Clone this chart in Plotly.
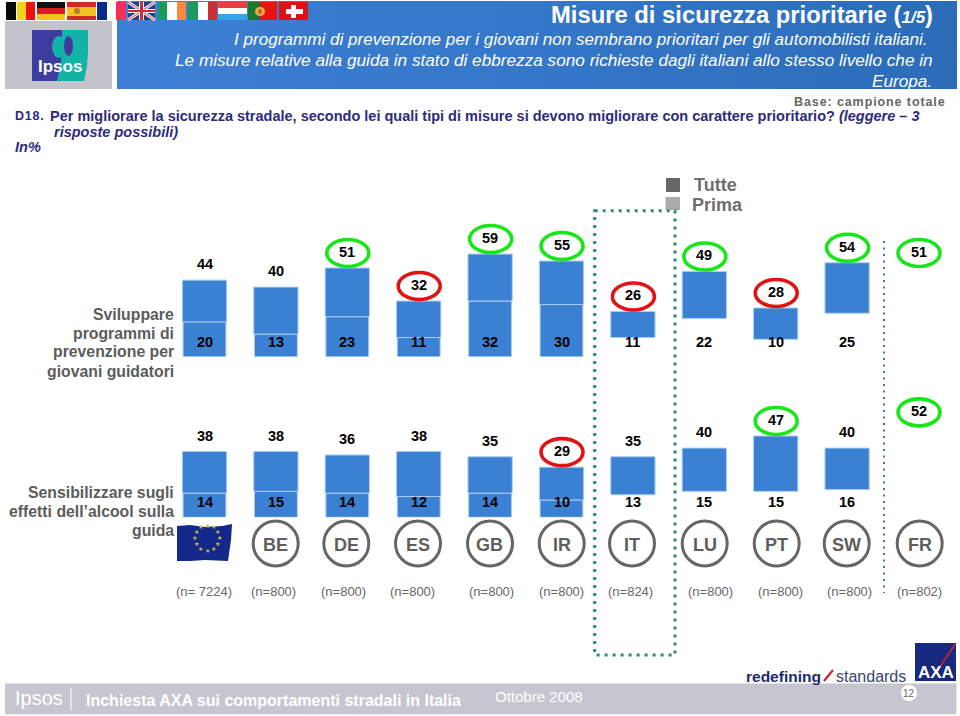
import math
import plotly.graph_objects as go

countries = ["UE", "BE", "DE", "ES", "GB", "IR", "IT", "LU", "PT", "SW", "FR"]
sample_labels = ["(n= 7224)", "(n=800)", "(n=800)", "(n=800)", "(n=800)", "(n=800)", "(n=824)", "(n=800)", "(n=800)", "(n=800)", "(n=802)"]

row1_label = ["Sviluppare", "programmi di", "prevenzione per", "giovani guidatori"]
row1_tutte = [44, 40, 51, 32, 59, 55, 26, 49, 28, 54, 51]
row1_prima = [20, 13, 23, 11, 32, 30, 11, 22, 10, 25, None]
row1_oval = {2: "g", 3: "r", 4: "g", 5: "g", 6: "r", 7: "g", 8: "r", 9: "g", 10: "g"}

row2_label = ["Sensibilizzare sugli", "effetti dell’alcool sulla", "guida"]
row2_tutte = [38, 38, 36, 38, 35, 29, 35, 40, 47, 40, 52]
row2_prima = [14, 15, 14, 12, 14, 10, 13, 15, 15, 16, None]
row2_oval = {5: "r", 8: "g", 10: "g"}

# Only the first six countries show the lower (Prima) segment; FR shows no bars.
N_PRIMA_VISIBLE = 6
N_BARS = 10

FONT = "Liberation Sans"
BAR = "#3A80D3"
EDGE = "#A9CDEE"
GREY = "#666666"
NAVY = "#2E2A7E"


def px(x):
    return x / 960


def py(y):
    return 1 - y / 716


shapes = []
ann = []


def rect(x0, y0, x1, y1, color, layer="below"):
    shapes.append(dict(type="rect", xref="paper", yref="paper", x0=px(x0), x1=px(x1), y0=py(y0), y1=py(y1),
                       fillcolor=color, line=dict(width=0), layer=layer))


def line(x0, y0, x1, y1, color, width, dash="solid", layer="below"):
    shapes.append(dict(type="line", xref="paper", yref="paper", x0=px(x0), x1=px(x1), y0=py(y0), y1=py(y1),
                       line=dict(color=color, width=width, dash=dash), layer=layer))


def ellipse(x0, y0, x1, y1, fill="rgba(0,0,0,0)", lc="rgba(0,0,0,0)", lw=0, layer="below"):
    shapes.append(dict(type="circle", xref="paper", yref="paper", x0=px(x0), x1=px(x1), y0=py(y0), y1=py(y1),
                       fillcolor=fill, line=dict(color=lc, width=lw), layer=layer))


def poly(pts, color, layer="below"):
    d = "M" + " L".join(f"{px(x):.5f},{py(y):.5f}" for x, y in pts) + " Z"
    shapes.append(dict(type="path", xref="paper", yref="paper", path=d, fillcolor=color, line=dict(width=0), layer=layer))


def text(x, y, s, size, color, anchor="center", family=FONT):
    ann.append(dict(xref="paper", yref="paper", x=px(x), y=py(y), text=s, showarrow=False, xanchor=anchor,
                    yanchor="middle", align=anchor if anchor != "center" else "center",
                    font=dict(family=family, size=size, color=color), borderpad=0, borderwidth=0))


# Banner with a horizontal gradient
bands = 42
c0, c1 = (61, 128, 213), (44, 109, 186)
for k in range(bands):
    t = k / (bands - 1)
    c = tuple(round(c0[j] + (c1[j] - c0[j]) * t) for j in range(3))
    rect(117 + 840 * k / bands, 1, min(957, 117 + 840 * (k + 1) / bands + 0.6), 89, f"rgb{c}")

# Logo panel
rect(5, 21, 112, 89, "#C3C3CC")
rect(32, 30, 63, 81, "#3F3A9E")
poly([(62, 30), (88, 30), (88, 52), (87, 66), (84, 81), (57, 81), (60, 66), (62, 55)], "#14B3A8")
ellipse(52, 36, 66, 58, fill="#14B3A8")
ellipse(64, 36, 73, 56, fill="#3F3A9E")
text(60, 67, "<b>Ipsos</b>", 17, "#FFFFFF")

# Flags
for x0, x1, c in [(6, 16, "#0A0A0A"), (17, 26, "#F4D21C"), (26, 35, "#EE1111")]:
    rect(x0, 2, x1, 20, c)
for y0, y1, c in [(2, 8, "#111111"), (8, 14, "#D81E1E"), (14, 20, "#F0C419")]:
    rect(37, y0, 65, y1, c)
rect(67, 2, 96, 7, "#CF2A2A"); rect(67, 7, 96, 16, "#F4C320"); rect(67, 16, 96, 20, "#CF2A2A")
ellipse(74, 8, 80, 14, fill="#B9792F")
rect(97, 2, 107, 20, "#0A2C8F"); rect(107, 2, 116, 20, "#FFFFFF"); rect(116, 2, 126, 20, "#F23058")
rect(128, 2, 155, 20, "#24407F")
line(128, 2, 155, 20, "#FFFFFF", 3.2); line(128, 20, 155, 2, "#FFFFFF", 3.2)
line(128, 2, 155, 20, "#D83040", 1); line(128, 20, 155, 2, "#D83040", 1)
rect(139, 2, 144, 20, "#FFFFFF"); rect(128, 9, 155, 13, "#FFFFFF")
rect(140, 2, 143, 20, "#D02A38"); rect(128, 10, 155, 12, "#D02A38")
rect(158, 2, 167, 20, "#1C9A5E"); rect(167, 2, 177, 20, "#FFFFFF"); rect(177, 2, 186, 20, "#FB8A3C")
rect(188, 2, 198, 20, "#1C9A5E"); rect(198, 2, 208, 20, "#FFFFFF"); rect(208, 2, 217, 20, "#CE2B37")
rect(218, 2, 247, 8, "#EE3B45"); rect(218, 8, 247, 14, "#FFFFFF"); rect(218, 14, 247, 20, "#32A5E8")
rect(248, 2, 260, 20, "#1A7A30"); rect(260, 2, 277, 20, "#EE1111")
ellipse(255, 7, 265, 16, fill="#E0B040"); ellipse(258, 9, 262, 14, fill="#D05040")
rect(279, 2, 308, 20, "#DD1111")
rect(291, 5, 296, 18, "#FFFFFF"); rect(286, 9, 303, 14, "#FFFFFF")

# Header text
text(933, 15, '<b>Misure di sicurezza prioritarie (</b><span style="font-size:17px"><b><i>1/5</i></b></span><b>)</b>', 23.8, "#FFFFFF", "right")
text(928, 39, "<i>I programmi di prevenzione per i giovani non sembrano prioritari per gli automobilisti italiani.</i>", 17.1, "#FFFFFF", "right")
text(933, 60, "<i>Le misure relative alla guida in stato di ebbrezza sono richieste dagli italiani allo stesso livello che in</i>", 17.2, "#FFFFFF", "right")
text(932, 81, "<i>Europa.</i>", 17.2, "#FFFFFF", "right")
text(946, 102, '<span style="letter-spacing:0.9px"><b>Base: campione totale</b></span>', 12.5, GREY, "right")
text(15, 116, '<span style="letter-spacing:0.8px"><b>D18.</b></span>', 12.5, NAVY, "left")
text(50, 116, "<b>Per migliorare la sicurezza stradale, secondo lei quali tipi di misure si devono migliorare con carattere prioritario? <i>(leggere – 3</i></b>", 14.5, NAVY, "left")
text(54, 132, "<b><i>risposte possibili)</i></b>", 14.5, NAVY, "left")
text(15, 147, "<b><i>In%</i></b>", 14.5, NAVY, "left")

# Legend
rect(666, 178, 680, 192, "#666666")
rect(665.5, 197, 680, 210, "#ABABAB")
text(694, 185, "<b>Tutte</b>", 18, "#6E6E6E", "left")
text(692, 205, "<b>Prima</b>", 18, "#6E6E6E", "left")

# Row labels
for k, s in enumerate(row1_label):
    text(174, 314 + 19 * k, f"<b>{s}</b>", 15.8, "#5C5C5C", "right")
for k, s in enumerate(row2_label):
    text(174, 492 + 19 * k, f"<b>{s}</b>", 15.8, "#5C5C5C", "right")

# Dotted separators
shapes.append(dict(type="rect", xref="paper", yref="paper", x0=px(594.7), x1=px(675), y0=py(210.7), y1=py(655),
                   line=dict(color="#2E8B70", width=3, dash="3px,5px"), fillcolor="rgba(0,0,0,0)", layer="below"))
line(884, 241, 884, 593, "#3A78C0", 2, "2px,4.5px")

# Sample sizes and country rings
sample_x = [203.5, 273.7, 343.7, 412.7, 492, 561.8, 630.7, 710, 780, 849, 919]
ring_x = [None, 275.7, 346.3, 418, 490, 561.7, 632, 704.7, 776.7, 846.7, 919.7]
for i, c in enumerate(countries):
    text(sample_x[i], 591.7, sample_labels[i], 13, GREY)
    if ring_x[i] is not None:
        ellipse(ring_x[i] - 22.5, 521, ring_x[i] + 22.5, 566, lc="#666666", lw=3)
        text(ring_x[i], 544.5, f"<b>{c}</b>", 18, "#5E5E5E")

# EU flag
poly([(177, 526), (190, 525), (205, 527), (222, 526), (232, 524), (231, 540), (228, 561), (205, 560), (190, 561), (177, 561)], "#13288A")
for k in range(12):
    a = math.radians(30 * k)
    ann.append(dict(xref="paper", yref="paper", x=px(202.5 + 12.5 * math.cos(a)), y=py(543 + 12.5 * math.sin(a)),
                    text="★", showarrow=False, font=dict(family="DejaVu Sans", size=6, color="#C9BC4F")))

# Footer
rect(5, 683.5, 956.5, 714.3, "#C5C6D0")
text(15, 698, "Ipsos", 20, "#FFFFFF", "left")
line(71, 688, 71, 710, "#FFFFFF", 1)
text(86, 700, "<b>Inchiesta AXA sui comportamenti stradali in Italia</b>", 16, "#FFFFFF", "left")
text(495, 696, "Ottobre 2008", 15, "#FFFFFF", "left")
ellipse(901, 685, 917, 701, fill="#FFFFFF")
text(909, 693.5, "12", 10, "#666666")
text(746, 676, "<b>redefining</b>", 15.5, "#1B2A6B", "left")
line(824, 681, 833, 670, "#C8283C", 2.2, layer="above")
text(836, 676, "standards", 16, "#3A4270", "left")
rect(915, 643, 956, 681, "#16297F")
line(956, 643, 937, 671, "#D2232F", 1.6, layer="above")
text(936, 672, "<b>AXA</b>", 17, "#FFFFFF")


def add_row(fig, yaxis, yref, tutte, prima, ovals):
    xs = list(range(len(countries)))
    upper = [t - p if (i < N_BARS) else None for i, (t, p) in enumerate(zip(tutte, prima))]
    lower = [p if i < N_PRIMA_VISIBLE else None for i, p in enumerate(prima)]
    fig.add_trace(go.Bar(x=xs, y=lower, name="Prima", width=0.6, yaxis=yaxis,
                         marker=dict(color=BAR, line=dict(color=EDGE, width=1))))
    fig.add_trace(go.Bar(x=xs, y=upper, base=[p if p is not None else 0 for p in prima], name="Tutte", width=0.62, yaxis=yaxis,
                         marker=dict(color=BAR, line=dict(color=EDGE, width=1))))
    for i in xs:
        ann.append(dict(xref="x", yref=yref, x=i, y=tutte[i], yshift=16, text=f"<b>{tutte[i]}</b>", showarrow=False,
                        yanchor="middle", font=dict(family=FONT, size=14.5, color="#000000")))
        if prima[i] is not None:
            ann.append(dict(xref="x", yref=yref, x=i, y=0, yshift=15, text=f"<b>{prima[i]}</b>", showarrow=False,
                            yanchor="middle", font=dict(family=FONT, size=14.5, color="#000000")))
        if i in ovals:
            shapes.append(dict(type="circle", xref="x", yref=yref, xsizemode="pixel", ysizemode="pixel",
                               xanchor=i, yanchor=tutte[i], x0=-20.5, x1=21.5, y0=1.5, y1=28.5,
                               fillcolor="rgba(0,0,0,0)",
                               line=dict(color="#19E619" if ovals[i] == "g" else "#E01414", width=3.6)))


fig = go.Figure()
add_row(fig, "y", "y", row1_tutte, row1_prima, row1_oval)
add_row(fig, "y2", "y2", row2_tutte, row2_prima, row2_oval)

X0, DX = 204.5, 71.4
fig.update_layout(
    width=960, height=716, autosize=False,
    margin=dict(l=0, r=0, t=0, b=0, pad=0),
    paper_bgcolor="#FFFFFF", plot_bgcolor="rgba(0,0,0,0)",
    barmode="overlay", showlegend=False,
    font=dict(family=FONT),
    xaxis=dict(domain=[0, 1], range=[-X0 / DX, (960 - X0) / DX], visible=False, fixedrange=True),
    yaxis=dict(domain=[py(356.7), py(200)], range=[0, 156.7 / 1.74], visible=False, fixedrange=True),
    yaxis2=dict(domain=[py(517.3), py(395)], range=[0, 122.3 / 1.73], visible=False, fixedrange=True, anchor="x"),
    shapes=shapes, annotations=ann,
)
fig.write_html("out.html", config=dict(displayModeBar=False),
               post_script="document.body.style.margin='0';document.documentElement.style.overflow='hidden';")
